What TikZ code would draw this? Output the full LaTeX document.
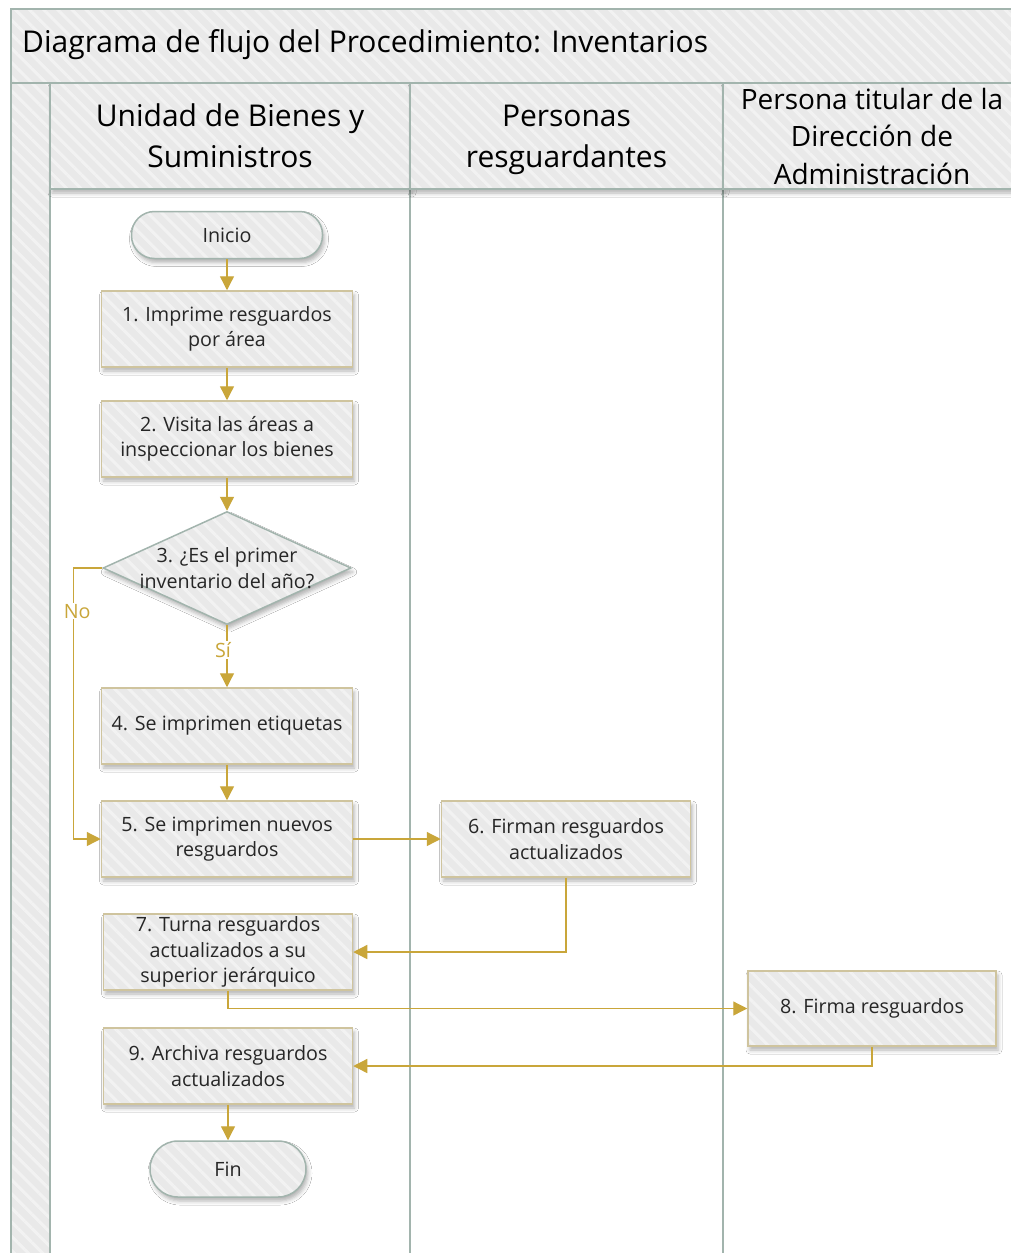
\documentclass[tikz,border=0pt]{standalone}
\usepackage{fontspec}
\setmainfont{Open Sans}
\usetikzlibrary{shapes.geometric,arrows.meta,shadows.blur,patterns.meta}
\definecolor{poolline}{HTML}{A2B4AD}
\definecolor{boxline}{HTML}{CFC49E}
\definecolor{flowgold}{HTML}{C9A63A}
\definecolor{shapegray}{HTML}{E9E9E9}
\definecolor{hatchgray}{HTML}{F2F2F2}
\newcommand{\titlefont}{\fontsize{30}{36}\selectfont}
\newcommand{\headfont}{\fontsize{30}{41}\selectfont}
\newcommand{\boxfont}{\fontsize{19.7}{25.5}\selectfont}
\tikzset{
  hatched/.style={preaction={fill=shapegray}, pattern={Lines[angle=-45,distance=10pt,line width=3pt]}, pattern color=hatchgray},
  softshadow/.style={blur shadow={shadow xshift=2pt, shadow yshift=-4pt, shadow blur radius=4pt, shadow opacity=30}},
  process/.style={rectangle, draw=boxline, line width=1.5pt, softshadow, hatched, minimum width=251pt, minimum height=76pt, font=\boxfont, text=black!85, align=center, inner sep=2pt},
  terminal/.style={rectangle, rounded corners=23pt, draw=poolline, line width=1.5pt, softshadow, hatched, minimum width=191pt, minimum height=47pt, font=\boxfont, text=black!85},
  decision/.style={diamond, draw=poolline, line width=1.5pt, softshadow, hatched, minimum width=248pt, minimum height=113pt, inner sep=0pt},
  lanehead/.style={rectangle, draw=poolline, line width=1.5pt, softshadow, hatched, minimum height=106pt, font=\headfont, align=center},
  flow/.style={draw=flowgold, line width=1.3pt, -{Triangle[width=14pt,length=14pt]}},
  flowlabel/.style={text=flowgold, font=\boxfont, fill=white, inner sep=1pt}
}
\begin{document}
\begin{tikzpicture}[x=1pt, y=-1pt]
	\useasboundingbox (0,0) rectangle (1011,1253);
	\clip (0,0) rectangle (1011,1253);
	\fill[white] (0,0) rectangle (1011,1253);
	% pool
	\path[hatched, draw=poolline, line width=1.5pt] (11,9) rectangle (1040,83);
	\path[hatched, draw=poolline, line width=1.5pt] (11,83) rectangle (50,1280);
	\node[anchor=west, font=\titlefont, inner sep=0pt] (title) at (22,45) {Diagrama de flujo del Procedimiento: Inventarios};
	\draw[poolline, line width=1.5pt] (410,189) -- (410,1280);
	\draw[poolline, line width=1.5pt] (723,189) -- (723,1280);
	% lanes
	\node[lanehead, minimum width=360pt] (lane1) at (230,136) {Unidad de Bienes y\\Suministros};
	\node[lanehead, minimum width=313pt] (lane2) at (566.5,136) {\vphantom{d}Personas\\\smash{resguardantes}};
	\node[lanehead, minimum width=298pt, font=\fontsize{28}{37.5}\selectfont] (lane3) at (872,136) {Persona titular de la\\Direcci\'on de\\Administraci\'on};
	% steps
	\node[terminal] (inicio) at (227,235) {Inicio};
	\node[process] (n1) at (227,329) {1. Imprime resguardos\\por área};
	\node[process] (n2) at (227,439) {2. Visita las áreas a\\inspeccionar los bienes};
	\node[decision] (d3) at (227,568) {};
	\node[font=\boxfont, text=black!85, align=center] (d3text) at (d3) {3. ¿Es el primer\\inventario del año?};
	\node[process] (n4) at (227,726) {4. Se imprimen etiquetas};
	\node[process] (n5) at (227,839) {5. Se imprimen nuevos\\resguardos};
	\node[process, minimum width=249pt] (n6) at (566,839) {6. Firman resguardos\\actualizados};
	\node[process, minimum width=249pt] (n7) at (228,952) {7. Turna resguardos\\actualizados a su\\superior jerárquico};
	\node[process, minimum width=248pt, minimum height=75pt] (n8) at (872,1008.5) {8. Firma resguardos};
	\node[process, minimum width=249pt] (n9) at (228,1066) {9. Archiva resguardos\\actualizados};
	\node[terminal, minimum width=156pt, minimum height=56pt, rounded corners=28pt] (fin) at (228,1169) {Fin};
	% flow
	\draw[flow] (inicio) -- (n1);
	\draw[flow] (n1) -- (n2);
	\draw[flow] (n2) -- (d3);
	\draw[flow] (d3) -- node[flowlabel, pos=.4, xshift=-4pt] (si) {Sí} (n4);
	\draw[flow] (d3.west) -- ++(-29,0) |- node[flowlabel, pos=.08, xshift=4pt] (no) {No} (n5.west);
	\draw[flow] (n4) -- (n5);
	\draw[flow] (n5) -- (n6);
	\draw[flow] (n6.south) |- (n7.east);
	\draw[flow] (n7.south) |- (n8.west);
	\draw[flow] (n8.south) |- (n9.east);
	\draw[flow] (n9) -- (fin);
\end{tikzpicture}
\end{document}
